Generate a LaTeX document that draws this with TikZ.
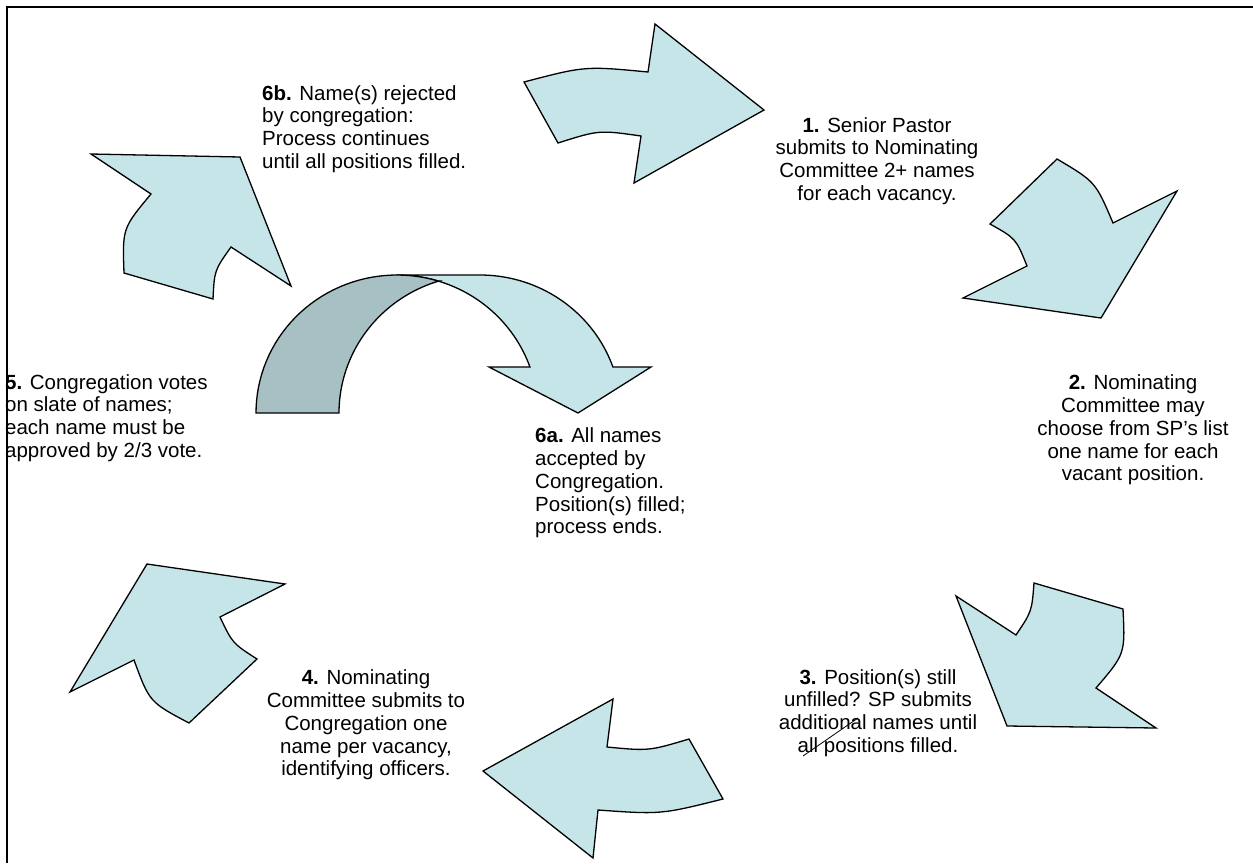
\documentclass[tikz,border=0pt]{standalone}
\usepackage{fontspec}
\setmainfont{Liberation Sans}
\definecolor{arrowlight}{RGB}{197,229,232}
\definecolor{arrowdark}{RGB}{166,192,195}
\begin{document}
\begin{tikzpicture}[x=1pt, y=-1pt, font=\fontsize{20.5pt}{22.7pt}\selectfont,
        cyclearrow/.style={draw, line width=1.3pt, line join=miter, fill=arrowlight},
        steptext/.style={inner sep=0pt, align=center},
        sidetext/.style={inner sep=0pt, align=left, anchor=west}]
        \useasboundingbox (0,0) rectangle (1253,863);
        \draw[line width=2pt] (1253,6.5) -- (6.5,6.5) -- (6.5,863);
        % the six arrows of the cycle
        \draw[cyclearrow] (524,82) .. controls (585,66) .. (648,72) -- (655,24) -- (764,110)
            -- (634,183) -- (641,136) .. controls (599,130) .. (558,143) -- cycle;
        \draw[cyclearrow] (1057,159) .. controls (1095.5,181.8) .. (1113,223) -- (1177,191)
            -- (1101,318) -- (963,298) -- (1027,266) .. controls (1015.9,238.5) .. (990,224) -- cycle;
        \draw[cyclearrow] (1034,583) -- (1123,609) .. controls (1125.2,653.9) .. (1096,688)
            -- (1156,728) -- (1007,726) -- (956,596) -- (1016,635) .. controls (1031.8,611.4) .. (1034,583) -- cycle;
        \draw[cyclearrow] (483,771) -- (613,699) -- (607,747) .. controls (648.8,751) .. (689,739)
            -- (723,799) .. controls (661,814.5) .. (598,810) -- (593,858) -- cycle;
        \draw[cyclearrow] (147,564) -- (285,584) -- (220,617) .. controls (232.5,643.3) .. (257,659)
            -- (189,723) .. controls (149.4,702) .. (134,660) -- (70,692) -- cycle;
        \draw[cyclearrow] (91,154) -- (240,157) -- (291,286) -- (231,247) .. controls (214.4,270.4) .. (213,299)
            -- (124,273) .. controls (122.4,228.3) .. (151,194) -- cycle;
        % curved arrow to 6a
        \draw[cyclearrow] (397,275) -- (480,275)
            -- plot[domain=270:340.5, samples=40] ({480+141*cos(\x)},{413+138*sin(\x)})
            -- (651,367) -- (578,413) -- (489,367)
            -- plot[domain=340.5:270, samples=40] ({397+141*cos(\x)},{413+138*sin(\x)}) -- cycle;
        \draw[cyclearrow, fill=arrowdark]
            plot[domain=180:287.1, samples=40] ({397+141*cos(\x)},{413+138*sin(\x)})
            -- plot[domain=252.9:180, samples=40] ({480+141*cos(\x)},{413+138*sin(\x)}) -- cycle;
        % step texts
        \node[steptext] (one) at (877,161) {\textbf{1.} Senior Pastor\\submits to Nominating\\Committee 2+ names\\for each vacancy.};
        \node[steptext] (two) at (1133,430) {\textbf{2.} Nominating\\Committee may\\choose from SP’s list\\one name for each\\vacant position.};
        \node[steptext] (three) at (878,713) {\textbf{3.} Position(s) still\\unfilled? SP submits\\additional names until\\all positions filled.};
        \node[steptext] (four) at (366,725) {\textbf{4.} Nominating\\Committee submits to\\Congregation one\\name per vacancy,\\identifying officers.};
        \node[sidetext] (five) at (5,418) {\textbf{5.} Congregation votes\\on slate of names;\\each name must be\\approved by 2/3 vote.};
        \node[sidetext] (sixa) at (535,483) {\textbf{6a.} All names\\accepted by\\Congregation.\\Position(s) filled;\\process ends.};
        \node[sidetext] (sixb) at (262,129) {\textbf{6b.} Name(s) rejected\\by congregation:\\Process continues\\until all positions filled.};
        \draw[line width=0.8pt] (803,756) -- (858,718);
\end{tikzpicture}
\end{document}
